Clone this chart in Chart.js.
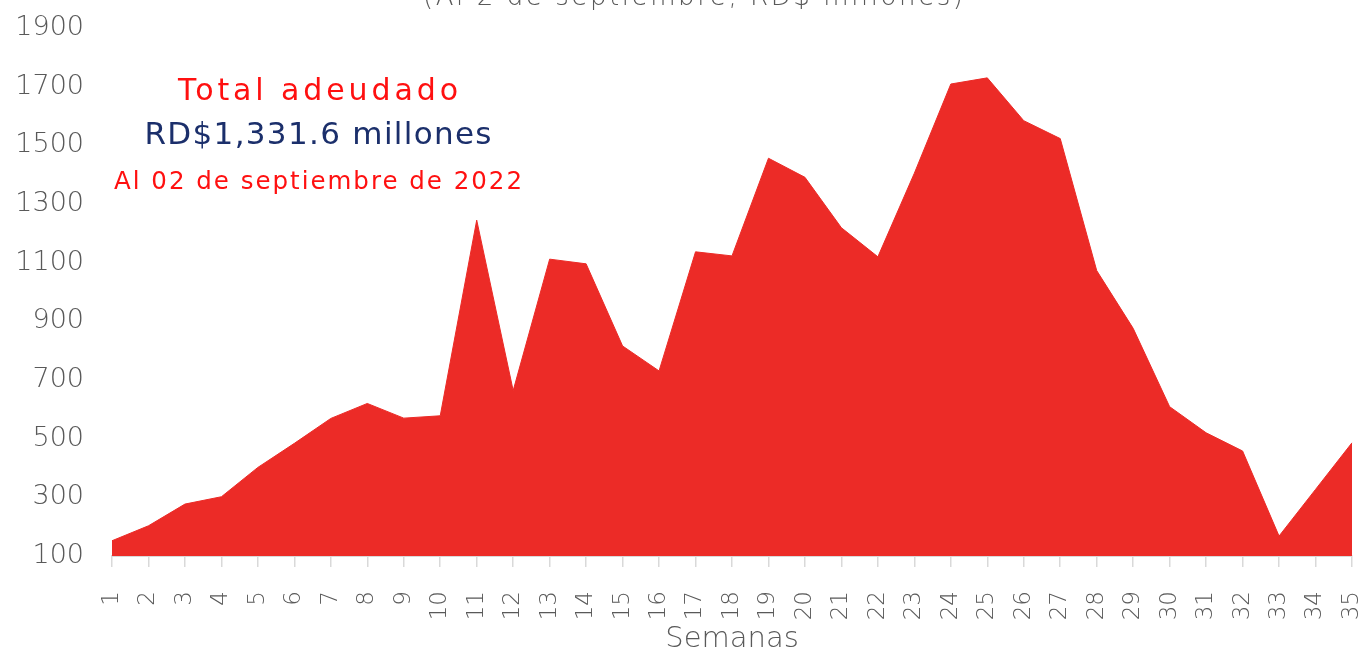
<!DOCTYPE html>
<html>
<head>
<meta charset="utf-8">
<script src="https://cdn.jsdelivr.net/npm/chart.js@4"></script>
<style>
  html,body{margin:0;padding:0;background:#fff;}
  #wrap{position:relative;width:1363px;height:650px;}
</style>
</head>
<body>
<div id="wrap"><canvas id="c" width="1363" height="650"></canvas></div>
<script>
// ---- data ----
const semanas = ["1","2","3","4","5","6","7","8","9","10","11","12","13","14","15","16","17","18","19","20","21","22","23","24","25","26","27","28","29","30","31","32","33","34","35"];
const adeudado = [152,203,277,302,402,484,569,620,570,578,1245,664,1112,1096,816,731,1137,1123,1456,1391,1219,1120,1405,1709,1730,1584,1523,1073,876,609,520,458,168,327,486];
const yMin = 100, yMax = 1900, yStep = 200;
const titleText = "(Al 2 de septiembre, RD$ millones)";
const noteLines = ["Total adeudado", "RD$1,331.6 millones", "Al 02 de septiembre de 2022"];
const xTitle = "Semanas";

const FONT = "'DejaVu Sans', sans-serif";
const GRAY = "#595959";

function fitText(ctx, text, cx, baseline, size, targetW, color, weight){
  ctx.save();
  ctx.font = (weight||'200') + ' ' + size + 'px ' + FONT;
  ctx.fillStyle = color;
  ctx.textBaseline = 'alphabetic';
  ctx.textAlign = 'left';
  ctx.letterSpacing = '0px';
  let w = ctx.measureText(text).width;
  if (w < targetW) {
    const sp = (targetW - w) / (text.length - 1);
    ctx.letterSpacing = sp + 'px';
  } else {
    const s = size * targetW / w;
    ctx.font = (weight||'200') + ' ' + s + 'px ' + FONT;
  }
  ctx.fillText(text, cx - targetW/2, baseline);
  ctx.restore();
}

const overlay = {
  id: 'overlay',
  afterDraw(chart){
    const ctx = chart.ctx;
    fitText(ctx, titleText, 693, 5, 26, 540, GRAY, '200');
    fitText(ctx, noteLines[0], 318, 100, 30, 280, '#ff1010', '400');
    fitText(ctx, noteLines[1], 318, 144, 31, 347, '#1b2f6b', '400');
    fitText(ctx, noteLines[2], 318, 189, 24.5, 408, '#ff1010', '400');
  }
};

new Chart(document.getElementById('c'), {
  type: 'line',
  data: {
    labels: semanas,
    datasets: [{
      data: adeudado,
      fill: 'start',
      backgroundColor: '#ec2b27',
      borderColor: '#ec2b27',
      borderWidth: 1,
      pointRadius: 0,
      tension: 0
    }]
  },
  options: {
    responsive: false,
    animation: false,
    devicePixelRatio: 1,
    layout: { padding: { top: 28, right: 11, left: 0, bottom: 0 } },
    plugins: { legend: { display: false }, tooltip: { enabled: false }, title: { display: false } },
    scales: {
      x: {
        offset: false,
        grid: { display: true, drawOnChartArea: false, drawTicks: true, tickLength: 11, color: '#d9d9d9', lineWidth: 1.5 },
        border: { display: true, color: '#d9d9d9', width: 2 },
        ticks: { color: GRAY, font: { family: FONT, size: 23, weight: '200' }, maxRotation: 90, minRotation: 90, padding: 24, autoSkip: false },
        title: { display: true, text: xTitle, color: GRAY, font: { family: FONT, size: 29, weight: '200', lineHeight: 1.0 }, padding: { top: 0, bottom: -4 } },
        afterFit(scale){ scale.height = 94; scale.paddingLeft = 0; scale.paddingRight = 0; }
      },
      y: {
        min: yMin, max: yMax,
        grid: { display: false, drawTicks: false },
        border: { display: false },
        ticks: { stepSize: yStep, color: GRAY, font: { family: FONT, size: 27, weight: '200' }, padding: 28,
                 callback: (v) => String(v) },
        afterFit(scale){ scale.width = 112; scale.paddingTop = 0; scale.paddingBottom = 0; }
      }
    }
  },
  plugins: [overlay]
});
</script>
</body>
</html>
